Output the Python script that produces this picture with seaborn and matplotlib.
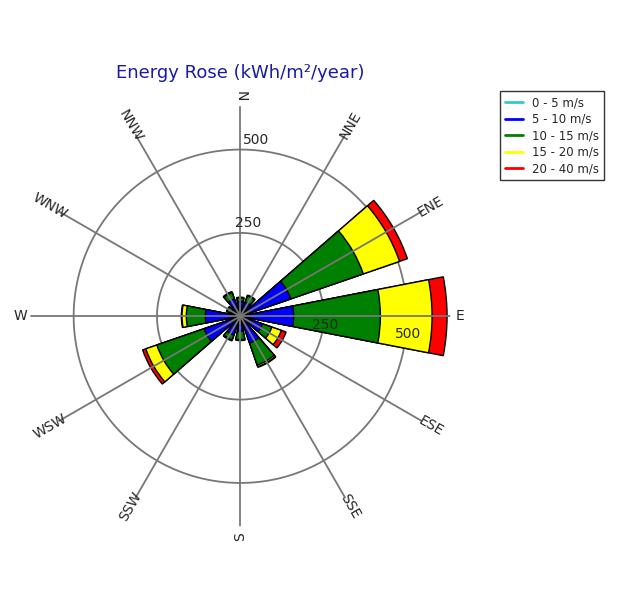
import numpy as np
import matplotlib
matplotlib.use("Agg")
import matplotlib.pyplot as plt
import seaborn as sns
from matplotlib.lines import Line2D

sns.set_style("white")
plt.rcParams['font.family'] = ['DejaVu Sans']

# data, energy (kWh/m2/year), cumulative per speed class
directions = ["N", "NNE", "ENE", "E", "ESE", "SSE", "S", "SSW", "WSW", "W", "WNW", "NNW"]
bins = ["0 - 5 m/s", "5 - 10 m/s", "10 - 15 m/s", "15 - 20 m/s", "20 - 40 m/s"]
e_0_5 = [2, 2, 3, 3, 2, 2, 2, 2, 3, 3, 2, 2]
e_5_10 = [45, 45, 160, 160, 70, 85, 45, 60, 115, 105, 30, 55]
e_10_15 = [55, 65, 390, 420, 100, 155, 70, 75, 265, 162, 42, 75]
e_15_20 = [56, 66, 505, 575, 130, 160, 72, 77, 300, 175, 43, 77]
e_20_40 = [57, 67, 530, 620, 145, 162, 73, 78, 310, 177, 44, 78]
colors = ["#33cccc", "#0000ff", "#008000", "#ffff00", "#ff0000"]

fig = plt.figure(figsize=(6.3, 5.9), dpi=100)
ax = fig.add_axes([0.048, 0.108, 0.667, 0.712], projection="polar")
ax.set_theta_zero_location("N")
ax.set_theta_direction(-1)
rmax = 630
ax.set_ylim(0, rmax)

theta = np.deg2rad(np.arange(12) * 30)
width = np.deg2rad(22)
layers = [e_0_5, e_5_10, e_10_15, e_15_20, e_20_40]
# draw outermost first so inner layers sit on top
for vals, c in reversed(list(zip(layers, colors))):
    ax.bar(theta, vals, width=width, color=c, edgecolor="black", linewidth=1.0, zorder=2)

ax.grid(False)
ax.spines["polar"].set_visible(False)
ax.set_xticks([])
ax.set_yticks([])
for t in theta:
    ax.plot([t, t], [0, rmax], color="#777777", lw=1.3, zorder=3)
circ = np.linspace(0, 2 * np.pi, 400)
for r in [250, 500]:
    ax.plot(circ, np.full_like(circ, r), color="#777777", lw=1.3, zorder=1)
    ax.text(np.deg2rad(5), r + 30, str(r), fontsize=10, ha="center", va="center", zorder=4)
    ax.text(np.deg2rad(96), r + 5, str(r), fontsize=10, ha="center", va="center", zorder=4)

rots = [-90, 60, 30, 0, -30, -60, 90, 60, 30, 0, -30, -60]
for t, d, rot in zip(theta, directions, rots):
    ax.text(t, rmax + 30, d, fontsize=10, ha="center", va="center", rotation=rot,
            rotation_mode="anchor")

fig.text(0.381, 0.868, "Energy Rose (kWh/m²/year)", color="#1a1aa6", fontsize=13, ha="center")

handles = [Line2D([0], [0], color=c, lw=2) for c in colors]
leg = fig.legend(handles, bins, loc="upper left", bbox_to_anchor=(0.785, 0.855),
                 fontsize=8.5, frameon=True, fancybox=False, edgecolor="black",
                 handlelength=1.5, borderpad=0.4, labelspacing=0.3)
leg.get_frame().set_linewidth(1.0)

fig.savefig("out.png", dpi=100)
